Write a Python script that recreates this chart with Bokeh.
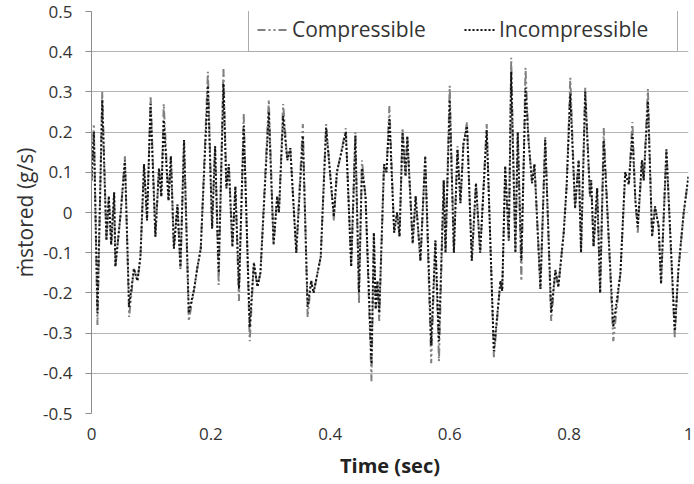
import numpy as np
from bokeh.plotting import figure
from bokeh.models import Range1d, FixedTicker, Legend, LegendItem
from bokeh.embed import file_html
from bokeh.resources import INLINE

# ---- data ----
time_s = [
    0.000, 0.004, 0.010, 0.018, 0.025, 0.029, 0.033, 0.038, 0.040, 0.049,
    0.056, 0.063, 0.071, 0.077, 0.082, 0.088, 0.093, 0.099, 0.107, 0.113,
    0.117, 0.121, 0.129, 0.133, 0.138, 0.144, 0.149, 0.155, 0.163, 0.172,
    0.177, 0.183, 0.195, 0.202, 0.207, 0.213, 0.221, 0.226, 0.230, 0.236,
    0.241, 0.247, 0.255, 0.265, 0.272, 0.278, 0.283, 0.297, 0.305, 0.311,
    0.314, 0.321, 0.328, 0.333, 0.343, 0.354, 0.362, 0.368, 0.372, 0.384,
    0.393, 0.406, 0.411, 0.417, 0.426, 0.435, 0.442, 0.448, 0.453, 0.459,
    0.469, 0.473, 0.476, 0.479, 0.482, 0.490, 0.494, 0.499, 0.507, 0.512,
    0.516, 0.521, 0.526, 0.529, 0.538, 0.543, 0.551, 0.559, 0.569, 0.576,
    0.582, 0.590, 0.593, 0.600, 0.607, 0.613, 0.618, 0.623, 0.629, 0.637,
    0.644, 0.651, 0.662, 0.674, 0.685, 0.688, 0.693, 0.699, 0.703, 0.710,
    0.714, 0.720, 0.727, 0.732, 0.738, 0.742, 0.752, 0.760, 0.770, 0.777,
    0.782, 0.791, 0.796, 0.802, 0.810, 0.816, 0.820, 0.827, 0.835, 0.837,
    0.841, 0.847, 0.852, 0.858, 0.874, 0.886, 0.894, 0.900, 0.906, 0.911,
    0.915, 0.922, 0.925, 0.932, 0.939, 0.944, 0.950, 0.954, 0.963, 0.977,
    0.983, 0.992, 1.000,
]

incompressible = [
    0.08, 0.20, -0.25, 0.28, -0.07, 0.04, -0.08, 0.05, -0.135, 0.00,
    0.13, -0.235, -0.14, -0.17, -0.11, 0.12, -0.02, 0.27, -0.06, 0.11,
    0.04, 0.23, 0.03, 0.14, -0.09, 0.02, -0.14, 0.18, -0.25, -0.19,
    -0.14, -0.09, 0.315, -0.04, 0.165, -0.15, 0.32, 0.06, 0.12, -0.085,
    0.065, -0.19, 0.215, -0.285, -0.125, -0.185, -0.15, 0.25, -0.08, 0.04,
    0.00, 0.24, 0.13, 0.16, -0.10, 0.19, -0.235, -0.17, -0.20, -0.11,
    0.21, -0.01, 0.10, 0.14, 0.20, -0.135, 0.19, -0.20, 0.11, 0.04,
    -0.377, -0.05, -0.24, -0.17, -0.25, 0.12, 0.10, 0.235, -0.05, 0.00,
    -0.06, 0.20, 0.09, 0.19, -0.077, 0.04, -0.12, 0.14, -0.33, -0.07,
    -0.32, 0.08, -0.10, 0.28, -0.10, 0.157, 0.023, 0.17, 0.215, -0.12,
    0.073, -0.10, 0.205, -0.345, -0.17, -0.195, 0.115, -0.07, 0.35, -0.10,
    0.20, -0.12, 0.31, 0.18, 0.073, 0.12, -0.19, 0.18, -0.25, -0.143,
    -0.185, -0.05, 0.07, 0.295, 0.01, 0.13, -0.10, 0.30, 0.04, 0.08,
    -0.085, 0.06, -0.20, 0.18, -0.285, -0.15, 0.10, 0.07, 0.195, 0.03,
    -0.035, 0.13, 0.08, 0.277, -0.06, 0.015, -0.035, -0.177, 0.157, -0.295,
    -0.143, 0.00, 0.09,
]

compressible = [
    0.08, 0.22, -0.28, 0.30, -0.07, 0.04, -0.08, 0.05, -0.135, 0.00,
    0.14, -0.26, -0.14, -0.17, -0.11, 0.12, -0.02, 0.29, -0.06, 0.11,
    0.04, 0.27, 0.03, 0.14, -0.09, 0.02, -0.14, 0.18, -0.27, -0.19,
    -0.14, -0.09, 0.35, -0.04, 0.165, -0.18, 0.36, 0.06, 0.12, -0.085,
    0.065, -0.22, 0.245, -0.32, -0.125, -0.185, -0.15, 0.28, -0.08, 0.04,
    0.00, 0.27, 0.13, 0.16, -0.10, 0.22, -0.26, -0.17, -0.20, -0.11,
    0.22, -0.02, 0.10, 0.14, 0.21, -0.135, 0.20, -0.225, 0.13, 0.04,
    -0.42, -0.05, -0.24, -0.17, -0.27, 0.12, 0.10, 0.265, -0.05, 0.00,
    -0.06, 0.21, 0.09, 0.19, -0.077, 0.04, -0.12, 0.14, -0.375, -0.07,
    -0.37, 0.08, -0.10, 0.315, -0.10, 0.165, 0.023, 0.17, 0.225, -0.12,
    0.073, -0.10, 0.22, -0.36, -0.17, -0.195, 0.115, -0.07, 0.385, -0.10,
    0.20, -0.17, 0.36, 0.18, 0.073, 0.12, -0.19, 0.19, -0.27, -0.143,
    -0.185, -0.05, 0.07, 0.335, 0.01, 0.13, -0.10, 0.31, 0.04, 0.08,
    -0.085, 0.06, -0.20, 0.21, -0.32, -0.15, 0.10, 0.07, 0.225, 0.03,
    -0.05, 0.13, 0.08, 0.307, -0.06, 0.015, -0.035, -0.177, 0.157, -0.31,
    -0.143, 0.00, 0.09,
]

series_names = ["Compressible", "Incompressible"]
y_ticks = [-0.5, -0.4, -0.3, -0.2, -0.1, 0.0, 0.1, 0.2, 0.3, 0.4, 0.5]
y_tick_labels = ["-0.5", "-0.4", "-0.3", "-0.2", "-0.1", "0", "0.1", "0.2", "0.3", "0.4", "0.5"]
x_ticks = [0.0, 0.2, 0.4, 0.6, 0.8, 1.0]
x_tick_labels = ["0", "0.2", "0.4", "0.6", "0.8", "1"]
x_title = "Time (sec)"
y_title = "\u1e41stored (g/s)"

FONT = "Open Sans"
TXT = "#333333"

p = figure(width=694, height=484, output_backend="svg", toolbar_location=None,
           x_range=Range1d(0, 1), y_range=Range1d(-0.5, 0.5),
           min_border_left=91, min_border_right=6, min_border_top=11,
           min_border_bottom=71)
p.outline_line_color = None
p.background_fill_color = "white"
p.border_fill_color = "white"

# grid
p.xgrid.visible = False
yt = FixedTicker(ticks=y_ticks)
p.ygrid.ticker = yt
p.ygrid.grid_line_color = "#b4b4b4"
p.ygrid.grid_line_width = 1

# y axis
p.yaxis.ticker = yt
p.yaxis.major_label_overrides = dict(zip(y_ticks, y_tick_labels))
p.yaxis.axis_line_color = "#8c8c8c"
p.yaxis.major_tick_line_color = "#8c8c8c"
p.yaxis.major_tick_out = 6
p.yaxis.major_tick_in = 0
p.yaxis.minor_tick_line_color = None
p.yaxis.major_label_standoff = 13
p.yaxis.major_label_text_font = FONT
p.yaxis.major_label_text_font_size = "17px"
p.yaxis.major_label_text_color = TXT
p.yaxis.axis_label = y_title
p.yaxis.axis_label_text_font = FONT
p.yaxis.axis_label_text_font_size = "21px"
p.yaxis.axis_label_text_font_style = "normal"
p.yaxis.axis_label_text_color = TXT
p.yaxis.axis_label_standoff = 1

# x axis
xt = FixedTicker(ticks=x_ticks)
p.xaxis.ticker = xt
p.xaxis.major_label_overrides = dict(zip(x_ticks, x_tick_labels))
p.xaxis.axis_line_color = None
p.xaxis.major_tick_line_color = None
p.xaxis.major_tick_out = 0
p.xaxis.major_tick_in = 0
p.xaxis.minor_tick_line_color = None
p.xaxis.major_label_standoff = 14
p.xaxis.major_label_text_font = FONT
p.xaxis.major_label_text_font_size = "17px"
p.xaxis.major_label_text_color = TXT
p.xaxis.axis_label = x_title
p.xaxis.axis_label_text_font = FONT
p.xaxis.axis_label_text_font_size = "20px"
p.xaxis.axis_label_text_font_style = "bold"
p.xaxis.axis_label_text_color = "#222222"
p.xaxis.axis_label_standoff = 9

# series
r_c = p.line(time_s, compressible, line_color="#808080", line_width=2,
             line_dash="8 3 2 3 2 3")
r_i = p.line(time_s, incompressible, line_color="#111111", line_width=2,
             line_dash="2 2")

legend = Legend(items=[LegendItem(label=series_names[0], renderers=[r_c]),
                       LegendItem(label=series_names[1], renderers=[r_i])],
                orientation="horizontal", location=(157, 361))
legend.padding = 8
legend.spacing = 2
legend.margin = 0
legend.label_standoff = 3
legend.glyph_width = 32
legend.glyph_height = 25
legend.label_height = 25
legend.label_width = 170
legend.label_text_font = FONT
legend.label_text_font_size = "21px"
legend.label_text_color = TXT
legend.border_line_color = "#5a5a5a"
legend.border_line_width = 1.5
legend.background_fill_color = "white"
legend.background_fill_alpha = 1.0
p.add_layout(legend)

open("out.html", "w").write(file_html(p, INLINE))
